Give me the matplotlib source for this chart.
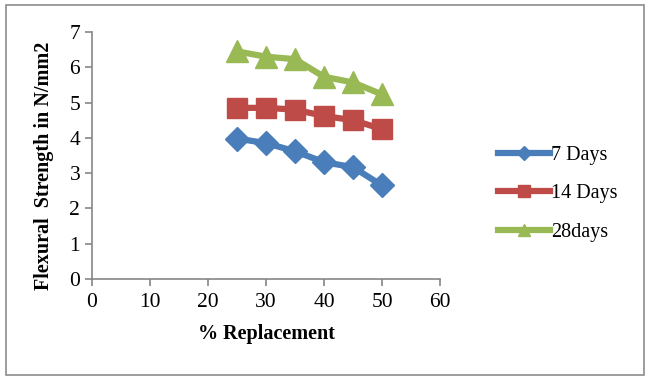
import matplotlib
matplotlib.use("Agg")
import matplotlib.pyplot as plt
from matplotlib.patches import Rectangle

plt.rcParams['font.family'] = ['Liberation Serif', 'DejaVu Serif']

replacement = [25, 30, 35, 40, 45, 50]
days_7 = [3.98, 3.85, 3.62, 3.31, 3.17, 2.65]
days_14 = [4.85, 4.85, 4.80, 4.62, 4.50, 4.25]
days_28 = [6.45, 6.30, 6.23, 5.73, 5.57, 5.23]

fig = plt.figure(figsize=(6.5, 3.8), dpi=100)
ax = fig.add_axes([0.1415, 0.2658, 0.5355, 0.65])

ax.plot(replacement, days_7, color="#4A7EBB", marker="D", markersize=12.5, linewidth=4.5, label="7 Days")
ax.plot(replacement, days_14, color="#BE4B48", marker="s", markersize=14.5, linewidth=4.5, label="14 Days")
ax.plot(replacement, days_28, color="#98B954", marker="^", markersize=15.5, linewidth=4.5, label="28days")

ax.set_xlim(0, 60)
ax.set_ylim(0, 7)
ax.set_xticks(range(0, 61, 10))
ax.set_yticks(range(0, 8))
for side in ["top", "right"]:
    ax.spines[side].set_visible(False)
for side in ["left", "bottom"]:
    ax.spines[side].set_color("#868686")
    ax.spines[side].set_linewidth(1.2)
ax.tick_params(colors="#868686", labelcolor="black", labelsize=15.5, length=5, width=1.2)
ax.tick_params(axis="x", pad=5)

ax.set_xlabel("% Replacement", fontsize=14.5, fontweight="bold", labelpad=9)
ax.set_ylabel("Flexural  Strength in N/mm2", fontsize=14.5, fontweight="bold")
ax.yaxis.set_label_coords(-0.11, 0.46)

fig.legend(loc="center left", bbox_to_anchor=(0.738, 0.49), frameon=False, fontsize=14.5,
           markerscale=0.55, handlelength=2.6, handletextpad=0.05, labelspacing=0.95)

# grey frame round the whole chart
fig.patches.append(Rectangle((0.009, 0.013), 0.982, 0.974, transform=fig.transFigure,
                             fill=False, edgecolor="#8C8C8C", linewidth=1.2))

fig.savefig("out.png", dpi=100)
